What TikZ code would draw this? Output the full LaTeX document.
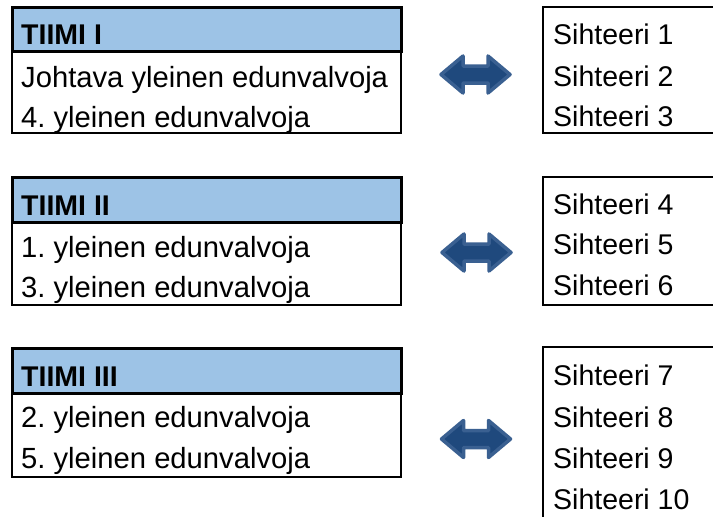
\documentclass[tikz,border=0pt]{standalone}
\usepackage{fontspec}
\setmainfont{Liberation Sans}
\usetikzlibrary{calc}
\frenchspacing
\definecolor{headblue}{RGB}{157,195,230}
\definecolor{arrowfill}{RGB}{31,73,125}
\definecolor{arrowline}{RGB}{58,96,145}
\def\twoarrow(#1,#2){\draw[line width=3.5, line join=round, draw=arrowline, fill=arrowfill] ($(#1,#2)+(-34.5,0)$) -- ++(22,-18.5) -- ++(0,10) -- ++(25,0) -- ++(0,-10) -- ++(22,18.5) -- ++(-22,18.5) -- ++(0,-10) -- ++(-25,0) -- ++(0,10) -- cycle;}

\begin{document}
\begin{tikzpicture}[x=1pt, y=-1pt,
	txt/.style={inner sep=0, anchor=base west, font=\fontsize{28.5}{34}\selectfont},
	member/.style={txt, font=\fontsize{29.2}{34}\selectfont}]
			%%%%% START %%%%%
			\clip (0, 0) rectangle (713, 517);
			
			% TIIMI I
			\draw[line width=2] (12, 51) rectangle (401, 133);
			\draw[line width=3, fill=headblue] (12, 7) rectangle (401, 51);
			\node[txt] (t1head) at (21, 44) {\textbf{TIIMI I}};
			\node[member] (t1a) at (21, 87) {Johtava yleinen edunvalvoja};
			\node[member] (t1b) at (21, 127) {4. yleinen edunvalvoja};
			
			\twoarrow(475.5, 74.5)
			
			\draw[line width=2.5] (543, 7) rectangle (725, 133);
			\node[txt] (s1) at (553, 44) {Sihteeri 1};
			\node[txt] (s2) at (553, 86) {Sihteeri 2};
			\node[txt] (s3) at (553, 126) {Sihteeri 3};
			
			% TIIMI II
			\draw[line width=2] (12, 222) rectangle (401, 305);
			\draw[line width=3, fill=headblue] (12, 177) rectangle (401, 222);
			\node[txt] (t2head) at (21, 215) {\textbf{TIIMI II}};
			\node[member] (t2a) at (21, 257) {1. yleinen edunvalvoja};
			\node[member] (t2b) at (21, 297) {3. yleinen edunvalvoja};
			
			\twoarrow(476.5, 252.5)
			
			\draw[line width=2.5] (543, 177) rectangle (725, 305);
			\node[txt] (s4) at (553, 214) {Sihteeri 4};
			\node[txt] (s5) at (553, 254) {Sihteeri 5};
			\node[txt] (s6) at (553, 295) {Sihteeri 6};
			
			% TIIMI III
			\draw[line width=2] (12, 393) rectangle (401, 477);
			\draw[line width=3, fill=headblue] (12, 348) rectangle (401, 393);
			\node[txt] (t3head) at (21, 386) {\textbf{TIIMI III}};
			\node[member] (t3a) at (21, 427) {2. yleinen edunvalvoja};
			\node[member] (t3b) at (21, 468) {5. yleinen edunvalvoja};
			
			\twoarrow(476, 439)
			
			\draw[line width=2.5] (543, 347) rectangle (725, 530);
			\node[txt] (s7) at (553, 385) {Sihteeri 7};
			\node[txt] (s8) at (553, 427) {Sihteeri 8};
			\node[txt] (s9) at (553, 468) {Sihteeri 9};
			\node[txt] (s10) at (553, 509) {Sihteeri 10};
			
			%%%%% END %%%%%
\end{tikzpicture}
\end{document}
